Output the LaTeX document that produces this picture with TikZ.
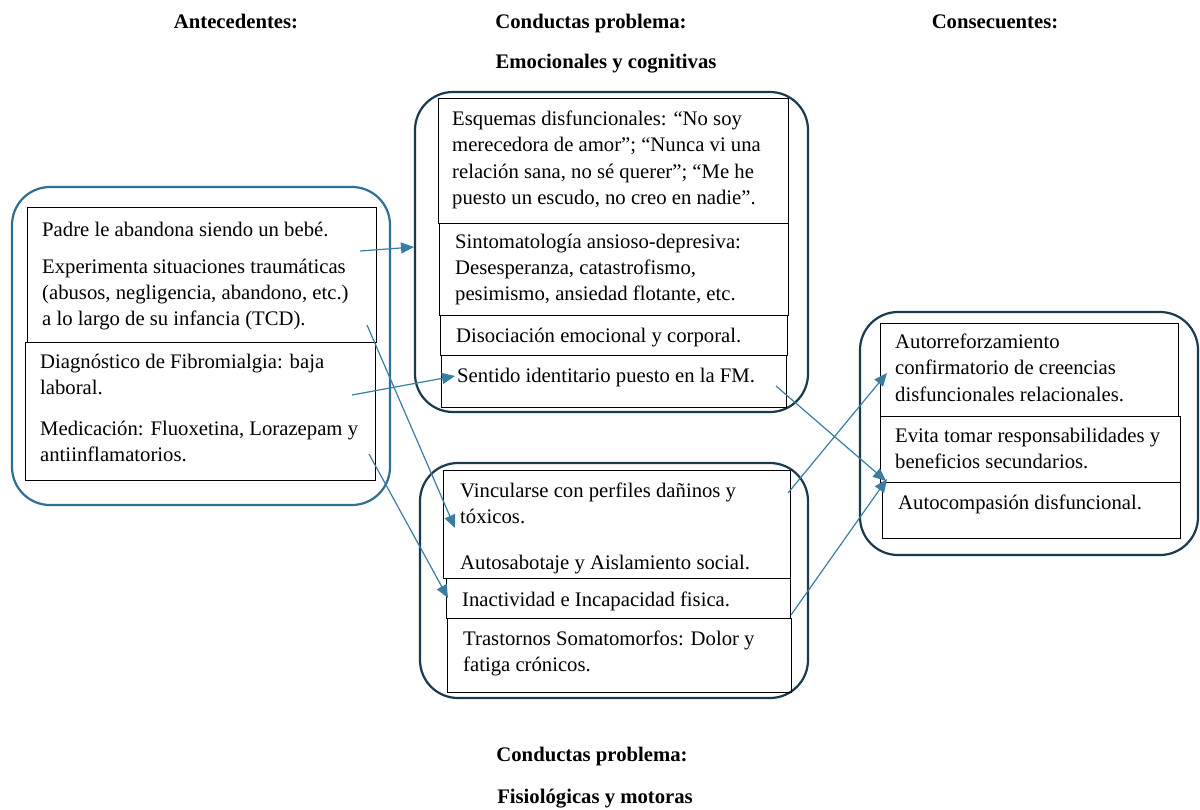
\documentclass[tikz,border=0pt]{standalone}
\usepackage{fontspec}
\setmainfont{Liberation Serif}
\usetikzlibrary{arrows.meta}
\definecolor{antblue}{HTML}{2F6F94}
\definecolor{navy}{HTML}{1C3A4E}
\definecolor{linkblue}{HTML}{3B7CA1}
\begin{document}
\begin{tikzpicture}[x=1pt,y=-1pt,
  group/.style={line width=2.2pt,rounded corners=38pt},
  cell/.style={draw,line width=1pt,anchor=north west,inner sep=0pt},
  txt/.style={anchor=north west,inner sep=0pt,yshift=-3pt,align=left,font=\fontsize{20.7}{26.2}\selectfont,execute at begin node=\strut},
  head/.style={anchor=base,inner sep=0pt,font=\fontsize{20.7}{26.2}\selectfont\bfseries},
  link/.style={draw=linkblue,line width=1.2pt,-{Triangle[length=13pt,width=11pt]}}]
\useasboundingbox (0,0) rectangle (1200,809);
% headings
\node[head] (hant) at (236,28) {Antecedentes:};
\node[head] (hcon) at (591,28) {Conductas problema:};
\node[head] (hcsq) at (995,28) {Consecuentes:};
\node[head] (hemo) at (606,68) {Emocionales y cognitivas};
\node[head] (hcon2) at (592,761) {Conductas problema:};
\node[head] (hfis) at (595,803) {Fisiológicas y motoras};
% containers
\draw[group,antblue] (12,187) rectangle (390,505);
\draw[group,navy] (415,92) rectangle (808,412);
\draw[group,navy] (420,463) rectangle (808,698);
\draw[group,navy] (860,312) rectangle (1198,555);
% antecedentes
\node[cell,minimum width=349pt,minimum height=135pt] (padre) at (27,207) {};
\node[cell,minimum width=350pt,minimum height=138pt] (diag) at (25,342) {};
\node[txt] (tpadre) at (42,215) {Padre le abandona siendo un bebé.};
\node[txt] (texpe) at (42,256) {Experimenta situaciones traumáticas\\(abusos, negligencia, abandono, etc.)\\a lo largo de su infancia (TCD).};
\node[txt] (tdiag) at (40,351) {Diagnóstico de Fibromialgia: baja\\laboral.};
\node[txt] (tmedi) at (40,418) {Medicación: Fluoxetina, Lorazepam y\\antiinflamatorios.};
% emocionales y cognitivas
\node[cell,minimum width=350pt,minimum height=125pt] (esq) at (438,98) {};
\node[cell,minimum width=349pt,minimum height=92pt] (sinto) at (439,223) {};
\node[cell,minimum width=347pt,minimum height=40pt] (diso) at (440,315) {};
\node[cell,minimum width=345pt,minimum height=52pt] (sent) at (441,355) {};
\node[txt] (tesq) at (452,108) {Esquemas disfuncionales: “No soy\\merecedora de amor”; “Nunca vi una\\relación sana, no sé querer”; “Me he\\puesto un escudo, no creo en nadie”.};
\node[txt] (tsinto) at (455,231) {Sintomatología ansioso-depresiva:\\Desesperanza, catastrofismo,\\pesimismo, ansiedad flotante, etc.};
\node[txt] (tdiso) at (456,321) {Disociación emocional y corporal.};
\node[txt] (tsent) at (457,361) {Sentido identitario puesto en la FM.};
% fisiologicas y motoras
\node[cell,minimum width=347pt,minimum height=108pt] (vinc) at (443,470) {};
\node[cell,minimum width=344pt,minimum height=40pt] (inac) at (446,578) {};
\node[cell,minimum width=344pt,minimum height=74pt] (tras) at (447,618) {};
\node[txt] (tvinc) at (460,480) {Vincularse con perfiles dañinos y\\tóxicos.};
\node[txt] (tauto) at (460,548) {Autosabotaje y Aislamiento social.};
\node[txt] (tinac) at (462,585) {Inactividad e Incapacidad fisica.};
\node[txt] (ttras) at (463,628) {Trastornos Somatomorfos: Dolor y\\fatiga crónicos.};
% consecuentes
\node[cell,minimum width=298pt,minimum height=93pt] (autor) at (880,323) {};
\node[cell,minimum width=300pt,minimum height=66pt] (evit) at (880,416) {};
\node[cell,minimum width=298pt,minimum height=56pt] (acomp) at (882,482) {};
\node[txt] (tautor) at (895,331) {Autorreforzamiento\\confirmatorio de creencias\\disfuncionales relacionales.};
\node[txt] (tevit) at (895,425) {Evita tomar responsabilidades y\\beneficios secundarios.};
\node[txt] (tacomp) at (898,488) {Autocompasión disfuncional.};
% connectors
\coordinate (p1) at (360,251); \coordinate (q1) at (414,247);
\coordinate (p2) at (352,395); \coordinate (q2) at (455,376);
\coordinate (p3) at (367,325); \coordinate (q3) at (455,528);
\coordinate (p4) at (369,454); \coordinate (q4) at (448,598);
\coordinate (p5) at (776,386); \coordinate (q5) at (886,481);
\coordinate (p6) at (788,493); \coordinate (q6) at (887,373);
\coordinate (p7) at (791,615); \coordinate (q7) at (887,479);
\draw[link] (p1) -- (q1);
\draw[link] (p2) -- (q2);
\draw[link] (p3) -- (q3);
\draw[link] (p4) -- (q4);
\draw[link] (p5) -- (q5);
\draw[link] (p6) -- (q6);
\draw[link] (p7) -- (q7);
\end{tikzpicture}
\end{document}
